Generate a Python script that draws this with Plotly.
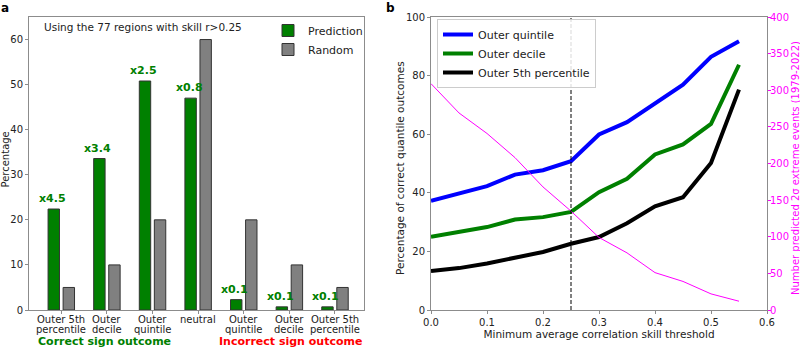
import plotly.graph_objects as go

# ---- Panel a data ----
cat_line1 = ["Outer 5th", "Outer", "Outer", "neutral", "Outer", "Outer", "Outer 5th"]
cat_line2 = ["percentile", "decile", "quintile", "", "quintile", "decile", "percentile"]
prediction = [22.4, 33.6, 50.8, 47.0, 2.3, 0.7, 0.7]
random_pct = [5, 10, 20, 60, 20, 10, 5]
ratio_labels = ["x4.5", "x3.4", "x2.5", "x0.8", "x0.1", "x0.1", "x0.1"]

# ---- Panel b data ----
threshold = [0.0, 0.05, 0.1, 0.15, 0.2, 0.25, 0.3, 0.35, 0.4, 0.45, 0.5, 0.55]
outer_quintile = [37.3, 39.8, 42.3, 46.2, 47.7, 50.8, 59.9, 64.1, 70.4, 76.9, 86.4, 91.7]
outer_decile = [25.0, 26.6, 28.3, 30.9, 31.7, 33.5, 40.2, 44.8, 53.1, 56.5, 63.5, 83.7]
outer_5th = [13.3, 14.3, 15.9, 18.0, 19.8, 22.6, 24.9, 29.6, 35.4, 38.5, 50.2, 75.2]
n_events = [309, 269, 241, 208, 168, 135, 99, 78, 51, 39, 22, 12]

FONT = "DejaVu Sans"
GREEN = "#008000"
GRAY = "#808080"
SPINE = "#8c8c8c"
MAG = "#ff00ff"
TXT = "#222222"

xs = list(range(len(cat_line1)))

fig = go.Figure()

fig.add_trace(go.Bar(
    x=xs, y=prediction, name="Prediction", marker=dict(color=GREEN, line=dict(color="#333333", width=1)),
    width=0.25, offset=-0.29, xaxis="x", yaxis="y", legend="legend"))
fig.add_trace(go.Bar(
    x=xs, y=random_pct, name="Random", marker=dict(color=GRAY, line=dict(color="#333333", width=1)),
    width=0.25, offset=0.04, xaxis="x", yaxis="y", legend="legend"))

fig.add_trace(go.Scatter(x=threshold, y=outer_quintile, mode="lines", name="Outer quintile",
                         line=dict(color="#0000ff", width=4), xaxis="x2", yaxis="y2", legend="legend2"))
fig.add_trace(go.Scatter(x=threshold, y=outer_decile, mode="lines", name="Outer decile",
                         line=dict(color=GREEN, width=4), xaxis="x2", yaxis="y2", legend="legend2"))
fig.add_trace(go.Scatter(x=threshold, y=outer_5th, mode="lines", name="Outer 5th percentile",
                         line=dict(color="#000000", width=4), xaxis="x2", yaxis="y2", legend="legend2"))
fig.add_trace(go.Scatter(x=threshold, y=n_events, mode="lines", name="events", showlegend=False,
                         line=dict(color=MAG, width=1), xaxis="x2", yaxis="y3"))

L, R, T, B = 29, 33, 17, 37
W = 800 - L - R
H = 347 - T - B
def px(x):
    return (x - L) / W
def py(y):
    return (347 - B - y) / H

axis_common = dict(showline=True, linecolor=SPINE, linewidth=1, ticks="outside", ticklen=3,
                   tickcolor=SPINE, showgrid=False, zeroline=False, automargin=False,
                   tickfont=dict(family=FONT, size=10, color=TXT))

fig.update_layout(
    width=800, height=347, margin=dict(l=L, r=R, t=T, b=B, autoexpand=False),
    plot_bgcolor="white", paper_bgcolor="white",
    font=dict(family=FONT, size=10, color=TXT),
    barmode="overlay",
    xaxis=dict(domain=[0, px(364)], range=[-0.708, 6.636], tickvals=xs, showticklabels=False,
               mirror=True, **axis_common),
    yaxis=dict(domain=[0, 1], range=[0, 65], dtick=10, mirror=True, **axis_common),
    xaxis2=dict(domain=[px(431), 1], range=[0, 0.6], dtick=0.1, tickformat=".1f", anchor="y2",
                mirror=True,
                title=dict(text="Minimum average correlation skill threshold",
                           font=dict(family=FONT, size=10.5, color=TXT), standoff=2),
                **axis_common),
    yaxis2=dict(domain=[0, 1], range=[0, 100], dtick=20, anchor="x2", **axis_common),
    yaxis3=dict(range=[0, 400], dtick=50, overlaying="y2", side="right", anchor="x2",
                showline=True, linecolor=SPINE, linewidth=1, ticks="outside", ticklen=3,
                tickcolor=MAG, showgrid=False, zeroline=False, automargin=False,
                ticklabelstandoff=-3,
                tickfont=dict(family=FONT, size=10, color=MAG)),
    legend=dict(x=px(268), y=py(16), xanchor="left", yanchor="top", bgcolor="rgba(0,0,0,0)",
                borderwidth=0, font=dict(family=FONT, size=11, color=TXT), itemwidth=30,
                tracegroupgap=0),
    legend2=dict(x=px(437), y=py(19), xanchor="left", yanchor="top", bgcolor="rgba(255,255,255,0.85)",
                 bordercolor="#cccccc", borderwidth=1, font=dict(family=FONT, size=11, color=TXT),
                 itemwidth=30, tracegroupgap=0),
)

fig.add_shape(type="line", x0=0.25, x1=0.25, y0=0, y1=1, xref="x2", yref="y2 domain",
              line=dict(color="black", width=1, dash="4px,2px"))

# ratio labels above prediction bars
for i, (v, lab) in enumerate(zip(prediction, ratio_labels)):
    fig.add_annotation(text=lab, x=i - 0.2, y=v, xref="x", yref="y", showarrow=False,
                       xanchor="center", yanchor="bottom", yshift=2,
                       font=dict(family=FONT, size=11, color=GREEN, weight="bold"))

# category labels (two lines, tight spacing)
for i, (l1, l2) in enumerate(zip(cat_line1, cat_line2)):
    fig.add_annotation(text=l1, x=i, y=py(319), xref="x", yref="paper", showarrow=False,
                       xanchor="center", yanchor="middle", font=dict(family=FONT, size=10, color=TXT))
    if l2:
        fig.add_annotation(text=l2, x=i, y=py(329.5), xref="x", yref="paper", showarrow=False,
                           xanchor="center", yanchor="middle", font=dict(family=FONT, size=10, color=TXT))

ann = [
    dict(text="<b>a</b>", x=5, y=8, size=12, color="black", angle=0),
    dict(text="<b>b</b>", x=390, y=8, size=12, color="black", angle=0),
    dict(text="Using the 77 regions with skill r>0.25", x=143, y=27, size=10.5, color=TXT, angle=0),
    dict(text="<b>Correct sign outcome</b>", x=104, y=341, size=11, color=GREEN, angle=0),
    dict(text="<b>Incorrect sign outcome</b>", x=290, y=341, size=11, color="#ff0000", angle=0),
    dict(text="Percentage", x=4.5, y=160, size=10, color=TXT, angle=-90),
    dict(text="Percentage of correct quantile outcomes", x=400, y=168, size=10.5, color=TXT, angle=-90),
    dict(text="Number predicted 2σ extreme events (1979-2022)", x=795, y=168, size=10, color=MAG, angle=-90),
]
for a in ann:
    fig.add_annotation(text=a["text"], x=px(a["x"]), y=py(a["y"]), xref="paper", yref="paper",
                       showarrow=False, xanchor="center", yanchor="middle", textangle=a["angle"],
                       font=dict(family=FONT, size=a["size"], color=a["color"]))

fig.write_html("out.html", config={"displayModeBar": False},
               post_script="document.body.style.margin='0';document.body.style.overflow='hidden';")
